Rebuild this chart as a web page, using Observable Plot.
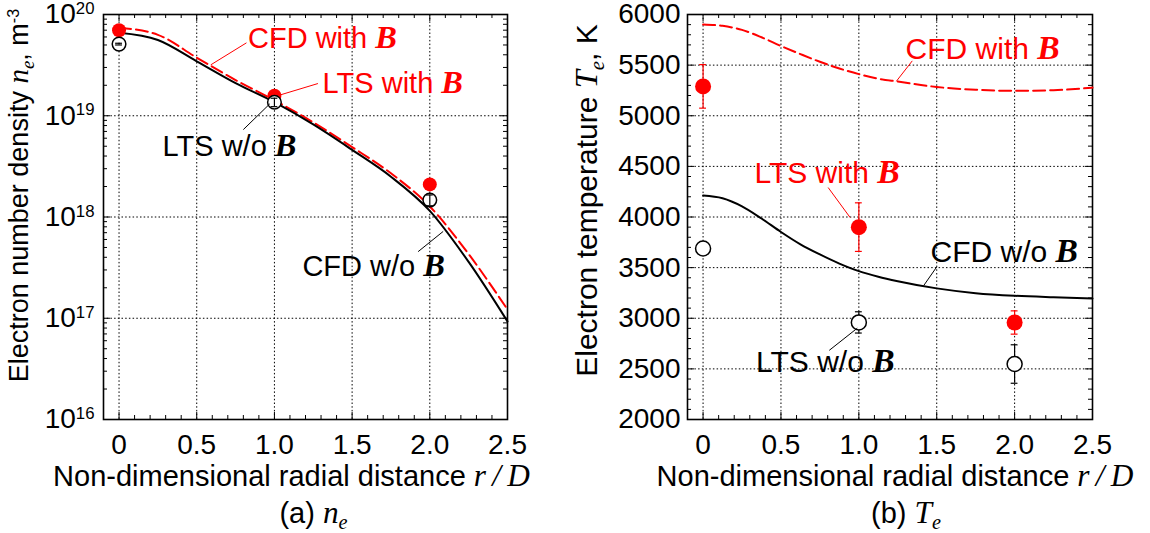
<!DOCTYPE html>
<html><head><meta charset="utf-8">
<script src="https://cdn.jsdelivr.net/npm/d3@7"></script>
<script src="https://cdn.jsdelivr.net/npm/@observablehq/plot@0.6"></script>
<style>
body{margin:0;background:#fff;}
#wrap{display:flex;width:1150px;height:533px;}
svg{display:block;flex:none;}
</style></head><body><div id="wrap"></div>
<script>
const SANS = "'Liberation Sans', Arial, Helvetica, sans-serif";
const SERIF = "'Liberation Serif', 'Times New Roman', serif";
const RED = "#ff0000";

// ---------- data ----------
const xNe = [0, 0.25, 0.5, 0.75, 1.0, 1.25, 1.5, 1.75, 2.0, 2.25, 2.5];
const neCfdWithB    = [7.4e19, 6.3e19, 3.75e19, 2.25e19, 1.42e19, 8.6e18, 4.9e18, 2.7e18, 1.27e18, 4.3e17, 1.22e17];
const neCfdWithoutB = [6.6e19, 5.6e19, 3.45e19, 2.1e19, 1.36e19, 8.2e18, 4.6e18, 2.5e18, 1.15e18, 3.6e17, 9.3e16];

const xTe = [0, 0.125, 0.25, 0.375, 0.5, 0.625, 0.75, 0.875, 1.0, 1.125, 1.25, 1.5, 1.75, 2.0, 2.25, 2.5];
const teCfdWithB    = [5901, 5888, 5848, 5775, 5689, 5609, 5533, 5467, 5411, 5366, 5338, 5284, 5257, 5246, 5252, 5278];
const teCfdWithoutB = [4212, 4185, 4105, 3985, 3852, 3730, 3630, 3540, 3465, 3410, 3366, 3295, 3248, 3222, 3207, 3195];

const xLts = [0, 1, 2];
const neLtsWithB       = [7.0e19, 1.58e19, 2.1e18];
const neLtsWithoutB    = [5.1e19, 1.36e19, 1.47e18];
const neLtsWithoutBErr = [1.0e18, 1.3e18, 1.8e17];
const teLtsWithB       = [5290, 3900, 2958];
const teLtsWithBErr    = [215, 240, 115];
const teLtsWithoutB    = [3689, 2959, 2548];
const teLtsWithoutBErr = [12, 105, 190];

// ---------- ticks ----------
const xMajor = [0, 0.5, 1.0, 1.5, 2.0, 2.5];
const xTickLabels = ["0", "0.5", "1.0", "1.5", "2.0", "2.5"];
const neMajor = [1e16, 1e17, 1e18, 1e19, 1e20];
const neTickLabels = ["10{sup:16}", "10{sup:17}", "10{sup:18}", "10{sup:19}", "10{sup:20}"];
const teMajor = [2000, 2500, 3000, 3500, 4000, 4500, 5000, 5500, 6000];
const teTickLabels = ["2000", "2500", "3000", "3500", "4000", "4500", "5000", "5500", "6000"];

// ---------- annotations (data units) ----------
const neLabels = [
  {x: 0.83, y: 5.7e19, text: "CFD with {bi:B}", color: RED},
  {x: 1.31, y: 2.08e19, text: "LTS with {bi:B}", color: RED},
  {x: 0.28, y: 4.9e18, text: "LTS w/o {bi:B}", color: "black"},
  {x: 1.18, y: 3.2e17, text: "CFD w/o {bi:B}", color: "black"}
];
const neLeaders = [
  {x1: 0.59, y1: 3.18e19, x2: 0.82, y2: 5.25e19, color: RED},
  {x1: 1.04, y1: 1.61e19, x2: 1.28, y2: 2.08e19, color: RED},
  {x1: 0.80, y1: 7.3e18, x2: 0.97, y2: 1.31e19, color: "black"},
  {x1: 1.925, y1: 4.55e17, x2: 2.086, y2: 7.2e17, color: "black"}
];
const teLabels = [
  {x: 1.30, y: 5660, text: "CFD with {bi:B}", color: RED},
  {x: 0.33, y: 4426, text: "LTS with {bi:B}", color: RED},
  {x: 1.46, y: 3652, text: "CFD w/o {bi:B}", color: "black"},
  {x: 0.34, y: 2565, text: "LTS w/o {bi:B}", color: "black"}
];
const teLeaders = [
  {x1: 1.241, y1: 5341, x2: 1.343, y2: 5542, color: RED},
  {x1: 0.803, y1: 4291, x2: 0.944, y2: 3995, color: RED},
  {x1: 1.416, y1: 3322, x2: 1.50, y2: 3507, color: "black"},
  {x1: 0.81, y1: 2683, x2: 0.99, y2: 2902, color: "black"}
];

const xTitle = "Non-dimensional radial distance {i:r\u2009/\u2009D}";

// ---------- helpers ----------
const curve = (xs, ys) => xs.map((x, i) => ({x, y: ys[i]}));
const pts = (ys, es) => xLts.map((x, i) => ({x, y: ys[i], e: es ? es[i] : 0}));
const H = 533, MT = 14, MB = 114;
const FH = H - MT - MB;
const xMinor = d3.range(1, 25).map(i => i / 10).filter(v => Math.abs(v * 2 - Math.round(v * 2)) > 1e-6);

function ticksFrame(FW, yMajorV, yMinorV) {
  const s = {stroke: "black", strokeWidth: 1};
  return [
    Plot.ruleX(xMinor, {...s, insetTop: FH - 4}),
    Plot.ruleX(xMinor, {...s, insetBottom: FH - 4}),
    Plot.ruleX(xMajor, {...s, insetTop: FH - 7}),
    Plot.ruleX(xMajor, {...s, insetBottom: FH - 7}),
    Plot.ruleY(yMinorV, {...s, insetRight: FW - 4}),
    Plot.ruleY(yMinorV, {...s, insetLeft: FW - 4}),
    Plot.ruleY(yMajorV, {...s, insetRight: FW - 7}),
    Plot.ruleY(yMajorV, {...s, insetLeft: FW - 7})
  ];
}

function panel(o) {
  const FW = o.W - o.ML - o.MR;
  const grid = {stroke: "black", strokeOpacity: 1, strokeWidth: 1, strokeDasharray: "1.5,2.2"};
  const bar = (data, color) => [
    Plot.ruleX(data, {x: "x", y1: d => d.y - d.e, y2: d => d.y + d.e, stroke: color, strokeWidth: 1.2}),
    Plot.ruleY(data, {y: d => d.y - d.e, x1: d => d.x - 0.022, x2: d => d.x + 0.022, stroke: color, strokeWidth: 1.2}),
    Plot.ruleY(data, {y: d => d.y + d.e, x1: d => d.x - 0.022, x2: d => d.x + 0.022, stroke: color, strokeWidth: 1.2})
  ];
  const openBars = bar(o.ltsNoB.filter(d => d.e > 0), "black");
  const openDots = Plot.dot(o.ltsNoB, {x: "x", y: "y", r: o.rOpen, fill: "white", stroke: "black", strokeWidth: 1.5});
  return Plot.plot({
    width: o.W, height: H,
    marginLeft: o.ML, marginRight: o.MR, marginTop: MT, marginBottom: MB,
    style: {fontFamily: SANS, background: "white", color: "black", overflow: "visible"},
    x: {domain: [-0.1, 2.5], axis: null},
    y: {...o.yOpts, axis: null},
    color: {type: "identity"},
    marks: [
      Plot.gridX(xMajor, grid),
      Plot.gridY(o.yMajorV, grid),
      ...ticksFrame(FW, o.yMajorV, o.yMinorV),
      Plot.frame({stroke: "black", strokeWidth: 1.6}),
      Plot.axisX(xMajor, {anchor: "bottom", tickSize: 0, tickPadding: 15, fontSize: 28, label: null,
        tickFormat: (d) => xTickLabels[xMajor.indexOf(d)]}),
      Plot.axisY(o.yMajorV, {anchor: "left", tickSize: 0, tickPadding: o.ypad, fontSize: 28, label: null,
        tickFormat: (d) => o.yTickLabelsV[o.yMajorV.indexOf(d)]}),
      Plot.line(o.cfdB, {x: "x", y: "y", stroke: RED, strokeWidth: 2, strokeDasharray: "12,5", curve: "monotone-x"}),
      Plot.line(o.cfdNoB, {x: "x", y: "y", stroke: "black", strokeWidth: 2, curve: "monotone-x"}),
      ...bar(o.ltsB.filter(d => d.e > 0), RED),
      Plot.dot(o.ltsB, {x: "x", y: "y", r: o.rFill, fill: RED, stroke: "none"}),
      ...(o.barsOnTop ? [openDots, ...openBars] : [...openBars, openDots]),
      Plot.link(o.leaders, {x1: "x1", y1: "y1", x2: "x2", y2: "y2", stroke: "color", strokeWidth: 1}),
      Plot.text(o.labels, {x: "x", y: "y", text: "text", fill: "color", fontSize: o.annoSize, textAnchor: "start", lineAnchor: "middle"}),
      Plot.text([xTitle], {frameAnchor: "bottom", textAnchor: "middle", dx: o.xtdx, dy: 57, fontSize: 29, lineAnchor: "middle"}),
      Plot.text([o.caption], {frameAnchor: "bottom", textAnchor: "middle", dx: o.capdx, dy: 94, fontSize: 29, lineAnchor: "middle"}),
      Plot.text([o.yTitle], {frameAnchor: "left", textAnchor: "middle", rotate: -90, dx: o.ytdx, dy: o.ytdy, fontSize: o.ytSize, lineAnchor: "middle"})
    ]
  });
}

const neMinor = [];
for (let k = 16; k < 20; k++) for (let m = 2; m <= 9; m++) neMinor.push(m * Math.pow(10, k));
const teMinor = d3.range(2100, 6000, 100).filter(v => v % 500 !== 0);

const left = panel({
  W: 575, ML: 103, MR: 68,
  yOpts: {type: "log", domain: [1e16, 1e20]},
  yMajorV: neMajor, yTickLabelsV: neTickLabels, yMinorV: neMinor,
  cfdB: curve(xNe, neCfdWithB), cfdNoB: curve(xNe, neCfdWithoutB),
  ltsB: pts(neLtsWithB), ltsNoB: pts(neLtsWithoutB, neLtsWithoutBErr),
  labels: neLabels, leaders: neLeaders, annoSize: 29, rFill: 7, rOpen: 6.8,
  yTitle: "Electron number density {i:n}{sub:e}, m{sup:-3}", ytSize: 27,
  caption: "(a) {i:n}{sub:e}",
  ytdx: -84, ytdy: -21.5, xtdx: -14, capdx: 8, ypad: 9, barsOnTop: true
});
const right = panel({
  W: 575, ML: 112, MR: 58,
  yOpts: {type: "linear", domain: [2000, 6000]},
  yMajorV: teMajor, yTickLabelsV: teTickLabels, yMinorV: teMinor,
  cfdB: curve(xTe, teCfdWithB), cfdNoB: curve(xTe, teCfdWithoutB),
  ltsB: pts(teLtsWithB, teLtsWithBErr), ltsNoB: pts(teLtsWithoutB, teLtsWithoutBErr),
  labels: teLabels, leaders: teLeaders, annoSize: 30, rFill: 8, rOpen: 7.5,
  yTitle: "Electron temperature {i:T}{sub:e}, K", ytSize: 30,
  caption: "(b) {i:T}{sub:e}",
  ytdx: -100, ytdy: -16.5, xtdx: 5, capdx: 16, ypad: 7, barsOnTop: false
});

const wrap = document.getElementById("wrap");
wrap.appendChild(left);
wrap.appendChild(right);

function richify(root) {
  root.querySelectorAll("text").forEach(node => {
    const t = node.textContent;
    if (!t.includes("{")) return;
    const fs = parseFloat(getComputedStyle(node).fontSize) || 24;
    while (node.firstChild) node.removeChild(node.firstChild);
    const re = /\{(\w+):([^}]*)\}|([^{]+)/g;
    let m, shift = 0;
    while ((m = re.exec(t))) {
      const ts = document.createElementNS("http://www.w3.org/2000/svg", "tspan");
      let target = 0;
      if (m[3] !== undefined) ts.textContent = m[3];
      else {
        const k = m[1];
        ts.textContent = m[2];
        if (k === "bi") {
          ts.style.fontFamily = SERIF; ts.style.fontStyle = "italic"; ts.style.fontWeight = "bold"; ts.style.fontSize = "1.12em";
        } else if (k === "i") {
          ts.style.fontFamily = SERIF; ts.style.fontStyle = "italic"; ts.style.fontSize = "1.08em";
        } else if (k === "sub") {
          ts.style.fontFamily = SERIF; ts.style.fontStyle = "italic"; ts.style.fontSize = "0.7em"; target = 0.22 * fs;
        } else if (k === "sup") {
          ts.style.fontSize = "0.6em"; target = -0.33 * fs;
        }
      }
      if (target !== shift) { ts.setAttribute("dy", (target - shift).toFixed(2)); shift = target; }
      node.appendChild(ts);
    }
  });
}
richify(wrap);
</script></body></html>
